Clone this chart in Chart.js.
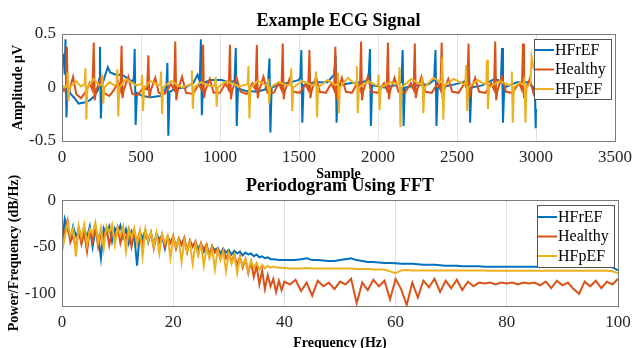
<!DOCTYPE html>
<html>
<head>
<meta charset="utf-8">
<script src="https://cdn.jsdelivr.net/npm/chart.js@4.4.1/dist/chart.umd.min.js"></script>
<style>
  html, body { margin: 0; padding: 0; background: #fff; overflow: hidden; }
  body { width: 638px; height: 348px; position: relative; }
  canvas { position: absolute; left: 0; }
  #ecgChart { top: 0; }
  #fftChart { top: 166px; }
</style>
</head>
<body>
<canvas id="ecgChart" width="638" height="183"></canvas>
<canvas id="fftChart" width="638" height="186"></canvas>
<script>
// series names, in legend order
const seriesNames = ["HFrEF", "Healthy", "HFpEF"];

// tick labels
const ecgXTicks = [0, 500, 1000, 1500, 2000, 2500, 3000, 3500];
const ecgYTicks = [-0.5, 0, 0.5];
const freqTicks = [0, 20, 40, 60, 80, 100];
const psdYTicks = [-100, -50, 0];

// ECG signals, [sample, amplitude]
const hfrefEcg = [
  [0,0.32],[10,0.3],[17,0.12],[22,0.45],[28,-0.28],[36,0.0],[55,-0.06],[80,-0.1],[105,-0.15],[140,-0.14],
  [175,-0.12],[205,-0.08],[228,-0.02],[235,0.08],[240,0.38],[246,-0.29],[254,0.02],[270,0.1],[290,0.19],[305,0.14],
  [340,0.12],[380,0.12],[420,0.08],[448,0.05],[455,0.1],[460,0.36],[466,-0.35],[474,-0.05],[510,-0.08],[560,-0.09],
  [620,-0.08],[655,-0.02],[662,0.05],[667,0.23],[673,-0.45],[681,-0.04],[720,-0.01],[780,0.0],[830,0.04],[858,0.12],
  [872,0.06],[879,0.45],[885,-0.26],[893,0.04],[940,0.07],[1010,0.07],[1060,0.05],[1092,0.06],[1100,0.37],[1106,-0.36],
  [1114,-0.01],[1160,-0.03],[1230,-0.04],[1285,-0.02],[1305,0.06],[1313,0.27],[1319,-0.42],[1327,0.0],[1380,0.03],[1450,0.05],
  [1500,0.07],[1509,0.1],[1515,0.35],[1521,-0.33],[1529,0.02],[1600,0.05],[1680,0.05],[1722,0.12],[1732,0.3],[1738,-0.33],
  [1746,0.02],[1820,0.04],[1900,0.05],[1940,0.07],[1949,0.36],[1955,-0.36],[1963,0.02],[2040,0.0],[2110,0.02],[2148,0.05],
  [2156,0.35],[2162,-0.36],[2170,0.0],[2250,0.02],[2320,0.03],[2355,0.07],[2364,0.35],[2370,-0.36],[2378,0.0],[2460,0.02],
  [2540,0.05],[2570,0.09],[2577,0.15],[2583,-0.33],[2591,0.0],[2660,0.02],[2740,0.08],[2778,0.06],[2785,0.37],[2791,-0.33],
  [2799,0.0],[2880,0.05],[2950,0.05],[2985,0.0],[2993,-0.05],[2998,-0.38],[3000,-0.2]
];
const healthyEcg = [
  [0,0.0],[12,-0.03],[25,0.02],[31,0.38],[37,-0.1],[45,-0.04],[70,0.1],[90,-0.06],[120,-0.1],[150,-0.04],
  [175,0.04],[192,-0.02],[201,0.42],[207,-0.12],[215,-0.03],[245,0.08],[265,-0.05],[300,-0.08],[330,-0.02],[355,0.05],
  [370,-0.02],[377,0.39],[383,-0.1],[391,-0.02],[420,0.1],[445,-0.06],[480,-0.07],[515,0.0],[538,-0.02],[547,0.3],
  [553,-0.1],[561,-0.03],[590,0.09],[612,-0.05],[650,-0.06],[690,0.03],[709,-0.02],[717,0.43],[723,-0.12],[731,-0.04],
  [760,0.1],[785,-0.05],[830,-0.06],[865,0.03],[885,-0.02],[893,0.4],[899,-0.1],[907,-0.03],[935,0.08],[960,-0.05],
  [1000,-0.05],[1035,0.04],[1055,-0.02],[1063,0.4],[1069,-0.11],[1077,-0.03],[1105,0.09],[1130,-0.04],[1170,-0.06],[1205,0.04],
  [1225,-0.02],[1233,0.4],[1239,-0.1],[1247,-0.03],[1275,0.1],[1300,-0.05],[1340,-0.05],[1372,0.04],[1389,-0.02],[1397,0.41],
  [1403,-0.11],[1411,-0.03],[1440,0.08],[1465,-0.04],[1505,-0.05],[1540,0.03],[1558,-0.02],[1566,0.35],[1572,-0.1],[1580,-0.03],
  [1608,0.1],[1632,-0.04],[1670,-0.05],[1705,0.04],[1722,-0.02],[1730,0.38],[1736,-0.11],[1744,-0.03],[1772,0.09],[1797,-0.04],
  [1835,-0.05],[1868,0.04],[1885,-0.02],[1893,0.43],[1899,-0.12],[1907,-0.03],[1935,0.1],[1960,-0.04],[2000,-0.05],[2038,0.04],
  [2055,-0.02],[2063,0.42],[2069,-0.11],[2077,-0.03],[2105,0.09],[2130,-0.04],[2170,-0.05],[2208,0.04],[2225,-0.02],[2233,0.41],
  [2239,-0.1],[2247,-0.03],[2275,0.1],[2300,-0.04],[2340,-0.05],[2378,0.04],[2395,-0.02],[2403,0.42],[2409,-0.11],[2417,-0.03],
  [2445,0.08],[2470,-0.04],[2510,-0.05],[2548,0.04],[2565,-0.02],[2573,0.41],[2579,-0.1],[2587,-0.03],[2615,0.09],[2640,-0.04],
  [2680,-0.05],[2717,0.04],[2734,-0.02],[2742,0.43],[2748,-0.12],[2756,-0.03],[2784,0.1],[2810,-0.04],[2850,-0.05],[2893,0.04],
  [2910,-0.02],[2918,0.41],[2924,-0.1],[2932,-0.03],[2960,0.08],[2985,-0.06],[3000,-0.1]
];
const hfpefEcg = [
  [0,0.02],[20,0.0],[32,0.02],[35,0.14],[41,-0.12],[48,0.0],[90,0.06],[120,0.01],[143,0.03],[148,0.18],
  [154,-0.3],[161,0.0],[200,0.08],[235,0.02],[252,0.03],[256,0.12],[261,-0.15],[268,0.0],[300,0.05],[330,0.02],
  [345,0.03],[350,0.17],[356,-0.27],[363,0.0],[405,0.08],[470,0.02],[502,0.03],[507,0.12],[513,-0.22],[520,0.0],
  [560,0.06],[610,0.02],[622,0.03],[627,0.15],[633,-0.25],[640,0.0],[690,0.06],[760,0.0],[817,0.03],[822,0.16],
  [828,-0.2],[835,0.0],[880,0.05],[940,0.01],[968,0.02],[973,0.1],[979,-0.18],[986,0.0],[1040,0.06],[1120,0.01],
  [1175,0.03],[1180,0.2],[1186,-0.29],[1193,0.0],[1240,0.06],[1290,0.02],[1302,0.02],[1306,0.08],[1311,-0.15],[1318,0.0],
  [1370,0.05],[1430,0.02],[1446,0.03],[1451,0.18],[1457,-0.22],[1464,0.0],[1520,0.06],[1590,0.02],[1603,0.03],[1608,0.15],
  [1614,-0.28],[1621,0.0],[1680,0.07],[1730,0.02],[1741,0.03],[1746,0.14],[1752,-0.24],[1759,0.0],[1810,0.09],[1855,0.03],
  [1861,0.04],[1866,0.2],[1872,-0.24],[1879,0.0],[1940,0.06],[1990,0.02],[1999,0.03],[2004,0.12],[2010,-0.21],[2017,0.0],
  [2080,0.05],[2125,0.03],[2131,0.04],[2136,0.19],[2142,-0.37],[2149,0.0],[2210,0.08],[2268,0.03],[2276,0.04],[2281,0.1],
  [2287,-0.24],[2294,0.0],[2350,0.09],[2398,0.05],[2402,0.06],[2407,0.28],[2413,-0.3],[2420,0.02],[2480,0.08],[2545,0.03],
  [2553,0.04],[2558,0.21],[2564,-0.22],[2571,0.0],[2630,0.07],[2680,0.03],[2685,0.04],[2690,0.26],[2696,-0.2],[2703,0.0],
  [2770,0.06],[2835,0.02],[2842,0.03],[2847,0.15],[2853,-0.33],[2860,0.0],[2900,0.05],[2922,0.02],[2927,0.1],[2933,-0.33],
  [2940,0.0],[2965,0.04],[2972,0.29],[2985,0.18],[3000,0.15]
];

// periodogram frequencies (Hz) and power (dB/Hz)
const freqHz = [
  0,0.5,1,1.5,2,2.5,3,3.5,4,4.5,5,5.5,6,6.5,7,7.5,8,8.5,9,9.5,
  10,10.5,11,11.5,12,12.5,13,13.5,14,14.5,15,15.5,16,16.5,17,17.5,18,18.5,19,19.5,
  20,20.5,21,21.5,22,22.5,23,23.5,24,24.5,25,25.5,26,26.5,27,27.5,28,28.5,29,29.5,
  30,30.5,31,31.5,32,32.5,33,33.5,34,34.5,35,35.5,36,36.5,37,37.5,38,38.5,39,39.5,40,
  41,42,43,44,45,46,47,48,49,50,51,52,53,54,55,56,57,58,59,60,
  61,62,63,64,65,66,67,68,69,70,71,72,73,74,75,76,77,78,79,80,
  81,82,83,84,85,86,87,88,89,90,91,92,93,94,95,96,97,98,99,100
];
const hfrefPsd = [
  -48,-20,-30,-42,-28,-38,-33,-45,-30,-40,-28,-50,-32,-38,-62,-30,-36,-28,-44,-30,
  -35,-27,-40,-31,-46,-33,-38,-70,-34,-41,-32,-45,-35,-48,-36,-42,-38,-52,-39,-45,
  -40,-50,-41,-47,-42,-55,-44,-49,-45,-52,-47,-55,-48,-58,-50,-53,-51,-57,-52,-56,
  -53,-58,-54,-57,-55,-59,-56,-58,-57,-60,-58,-61,-60,-62,-61,-63,-63,-63.5,-64,-64,-64,
  -64,-64,-63,-62,-64,-64,-64.5,-65,-65,-64,-63,-62,-64,-65,-66,-66,-66.5,-67,-67,-67.5,
  -68,-68,-68,-68.5,-69,-69,-69,-69.5,-70,-70,-70,-70.5,-70.5,-70.5,-70.5,-71,-71,-71,-71,-71,
  -71,-71,-71,-71,-71,-71,-71,-71,-71,-71,-71,-71,-71,-71,-71,-71,-71,-71,-71.5,-75
];
const healthyPsd = [
  -40,-35,-22,-45,-38,-52,-30,-47,-35,-55,-33,-44,-28,-50,-36,-42,-30,-48,-33,-40,
  -29,-46,-35,-42,-31,-50,-36,-44,-34,-48,-37,-43,-35,-52,-38,-45,-37,-49,-40,-46,
  -38,-52,-41,-48,-40,-55,-43,-50,-44,-58,-46,-53,-47,-60,-49,-56,-52,-63,-53,-62,
  -56,-66,-58,-70,-60,-72,-63,-78,-66,-82,-70,-90,-75,-95,-80,-92,-84,-98,-86,-96,-87,
  -90,-85,-97,-88,-102,-86,-92,-88,-95,-87,-90,-84,-110,-88,-96,-85,-92,-86,-106,-84,
  -95,-112,-88,-104,-86,-93,-84,-98,-86,-94,-85,-96,-87,-92,-88,-89,-88,-90,-88,-89,
  -88,-90,-88,-89,-88,-91,-87,-94,-86,-91,-88,-95,-100,-87,-92,-86,-94,-87,-90,-84
];
const hfpefPsd = [
  -55,-40,-25,-38,-30,-60,-28,-40,-26,-48,-31,-36,-24,-45,-30,-52,-28,-35,-26,-48,
  -30,-38,-28,-55,-32,-40,-30,-47,-33,-60,-31,-44,-34,-50,-35,-57,-36,-46,-38,-62,
  -40,-50,-42,-66,-43,-55,-45,-68,-47,-58,-48,-70,-50,-62,-52,-74,-53,-64,-55,-76,
  -57,-68,-59,-78,-61,-70,-63,-76,-65,-72,-67,-74,-69,-73,-70,-72,-71,-72,-72,-72.5,-72.5,
  -73,-73,-73,-72.5,-73,-73,-73,-73,-73,-73,-73,-73,-73.5,-73.5,-73.5,-74,-74,-74,-76,-78,
  -75,-74.5,-75,-75,-75,-75,-75,-75,-75,-75,-75,-75,-75,-75,-75,-75,-75.5,-75.5,-75.5,-75.5,
  -75.5,-75.5,-75.5,-75.5,-75.5,-75.5,-75.5,-75.5,-75.5,-75.5,-75.5,-75.5,-75.5,-75.5,-75.5,-75.5,-75.5,-75.5,-76,-78
];

const colors = ["#0072BD", "#D95319", "#EDB120"];
const serif = '"Liberation Serif", "Times New Roman", serif';

Chart.defaults.font.family = serif;
Chart.defaults.color = "#262626";

// full box round the axes, like matlab's "box on"
const frame = {
  id: "frame",
  afterDatasetsDraw(chart) {
    const { ctx, chartArea } = chart;
    ctx.save();
    ctx.strokeStyle = "#7a7a7a";
    ctx.lineWidth = 1;
    ctx.strokeRect(
      Math.round(chartArea.left) + 0.5,
      Math.round(chartArea.top) + 0.5,
      Math.round(chartArea.right - chartArea.left),
      Math.round(chartArea.bottom - chartArea.top)
    );
    ctx.restore();
  },
};

// legend box in the upper right corner of the axes
const legendBox = {
  id: "legendBox",
  afterDraw(chart, args, opts) {
    const { ctx, chartArea } = chart;
    const w = 77;
    const x = Math.round(chartArea.right - 4 - w);
    const y = Math.round(chartArea.top + opts.top);
    ctx.save();
    ctx.fillStyle = "#fff";
    ctx.fillRect(x, y, w, opts.height);
    ctx.strokeStyle = "#555";
    ctx.lineWidth = 1;
    ctx.strokeRect(x + 0.5, y + 0.5, w, opts.height);
    ctx.font = "16px " + serif;
    ctx.textBaseline = "middle";
    chart.data.datasets.forEach((ds, i) => {
      const ry = y + opts.first + i * opts.gap;
      ctx.strokeStyle = ds.borderColor;
      ctx.lineWidth = 2;
      ctx.beginPath();
      ctx.moveTo(x + 1, ry);
      ctx.lineTo(x + 20, ry);
      ctx.stroke();
      ctx.fillStyle = "#000";
      ctx.fillText(ds.label, x + 21, ry + 0.5);
    });
    ctx.restore();
  },
};

const makeLine = (i, pts) => ({
  label: seriesNames[i],
  data: pts,
  borderColor: colors[i],
  backgroundColor: colors[i],
  borderWidth: 2,
  pointRadius: 0,
  tension: 0,
  fill: false,
  order: 2 - i,
});

const useTicks = (list) => (scale) => {
  scale.ticks = list.map((v) => ({ value: v }));
};

// plain numbers, no thousands separator
const plain = (v) => String(v);

const buildOptions = (cfg) => ({
  responsive: false,
  maintainAspectRatio: false,
  animation: false,
  layout: { padding: { left: 0, right: 20, top: 0, bottom: 0 } },
  plugins: {
    legend: { display: false },
    tooltip: { enabled: false },
    title: {
      display: true,
      text: cfg.title,
      fullSize: false,
      color: "#000",
      font: { size: 18, weight: "bold" },
      padding: cfg.titlePad,
    },
    legendBox: cfg.legend,
  },
  scales: {
    x: {
      type: "linear",
      min: cfg.xMin,
      max: cfg.xMax,
      afterBuildTicks: useTicks(cfg.xTicks),
      afterFit: (s) => { s.height = cfg.xHeight; },
      border: { display: false },
      grid: { color: "#e0e0e0", drawTicks: false },
      ticks: { font: { size: 17 }, padding: 6, maxRotation: 0, autoSkip: false, callback: plain },
      title: {
        display: true,
        text: cfg.xLabel,
        color: "#000",
        font: { size: 14, weight: "bold" },
        padding: 0,
      },
    },
    y: {
      type: "linear",
      min: cfg.yMin,
      max: cfg.yMax,
      afterBuildTicks: useTicks(cfg.yTicks),
      afterFit: (s) => { s.width = 62; },
      border: { display: false },
      grid: { display: false, drawTicks: false },
      ticks: { font: { size: 17 }, padding: 6, callback: plain },
      title: {
        display: true,
        text: cfg.yLabel,
        color: "#000",
        font: { size: 14, weight: "bold" },
        padding: { top: cfg.yTitlePad, bottom: 0 },
      },
    },
  },
});

const toXY = (pts) => pts.map(([x, y]) => ({ x, y }));
const psdXY = (vals) => freqHz.map((f, i) => ({ x: f, y: vals[i] }));

new Chart(document.getElementById("ecgChart"), {
  type: "line",
  data: {
    datasets: [
      makeLine(0, toXY(hfrefEcg)),
      makeLine(1, toXY(healthyEcg)),
      makeLine(2, toXY(hfpefEcg)),
    ],
  },
  options: buildOptions({
    title: "Example ECG Signal",
    titlePad: { top: 11, bottom: 1.4 },
    xLabel: "Sample",
    yLabel: "Amplitude μV",
    xMin: 0, xMax: 3500, xTicks: ecgXTicks,
    yMin: -0.5, yMax: 0.5, yTicks: ecgYTicks,
    xHeight: 42,
    yTitlePad: 10,
    legend: { top: 5, height: 60, first: 11, gap: 19.5 },
  }),
  plugins: [frame, legendBox],
});

new Chart(document.getElementById("fftChart"), {
  type: "line",
  data: {
    datasets: [
      makeLine(0, psdXY(hfrefPsd)),
      makeLine(1, psdXY(healthyPsd)),
      makeLine(2, psdXY(hfpefPsd)),
    ],
  },
  options: buildOptions({
    title: "Periodogram Using FFT",
    titlePad: { top: 9.5, bottom: 3 },
    xLabel: "Frequency (Hz)",
    yLabel: "Power/Frequency (dB/Hz)",
    xMin: 0, xMax: 100, xTicks: freqTicks,
    yMin: -113, yMax: 0, yTicks: psdYTicks,
    xHeight: 46,
    yTitlePad: 6,
    legend: { top: 5, height: 62, first: 12, gap: 19.5 },
  }),
  plugins: [frame, legendBox],
});
</script>
</body>
</html>
